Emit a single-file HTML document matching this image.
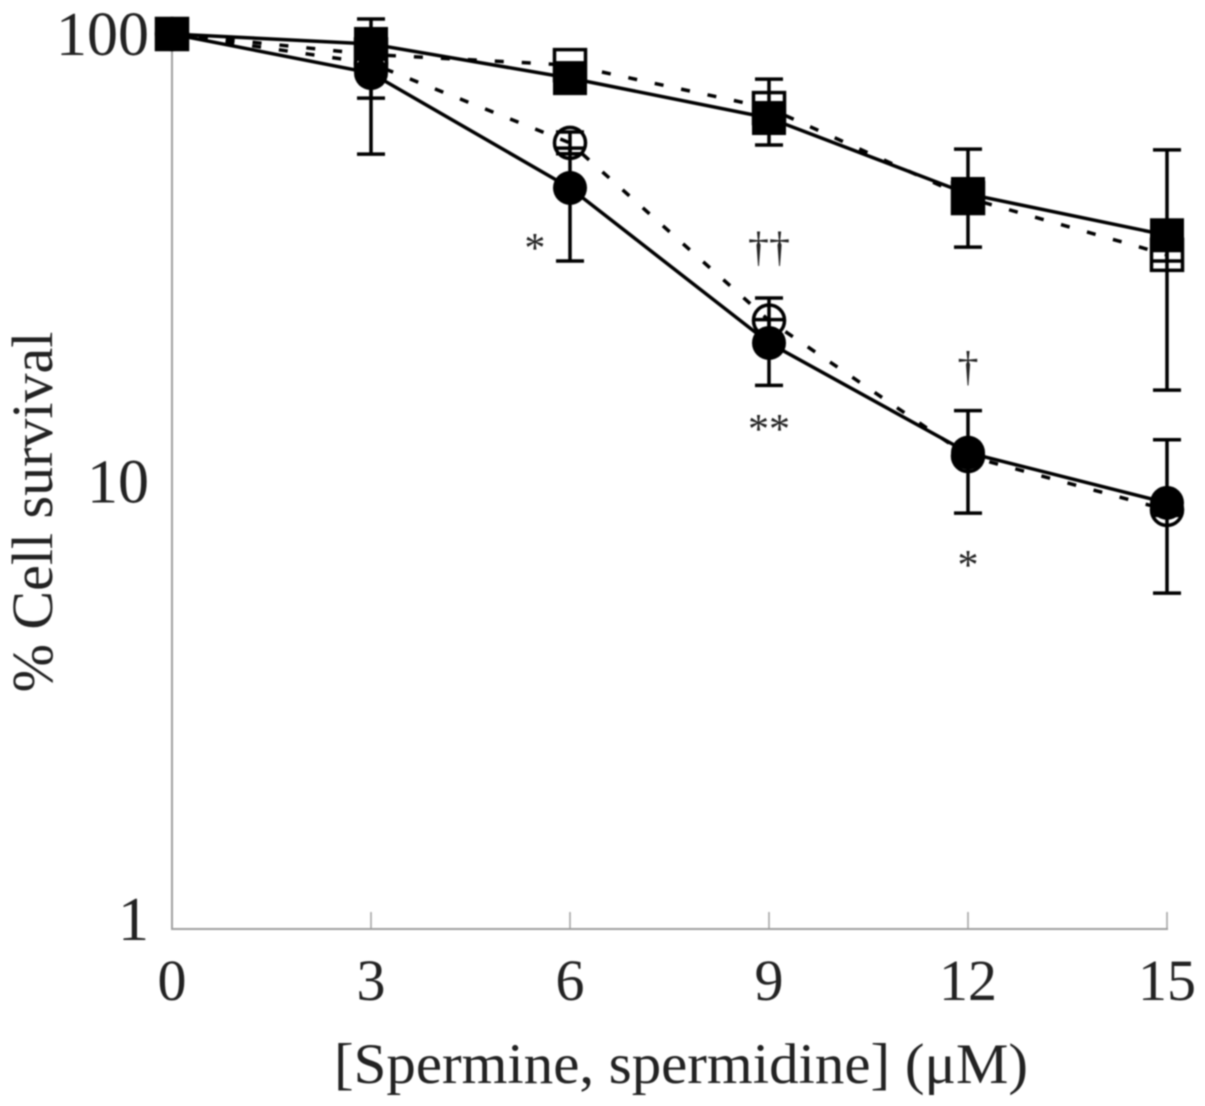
<!DOCTYPE html>
<html lang="en">
<head>
<meta charset="utf-8">
<title>Cell survival chart</title>
<style>
html,body{margin:0;padding:0;background:#fff;}
#chart{display:block;width:1205px;height:1106px;filter:blur(0.7px);}
text{font-family:"Liberation Serif","DejaVu Serif",serif;fill:#222;}
</style>
</head>
<body>
<svg id="chart" xmlns="http://www.w3.org/2000/svg" width="1205" height="1106" viewBox="0 0 1205 1106">
  <g id="axes"></g>
  <g id="series"></g>
  <g id="notes"></g>
  <text x="681" y="1083" font-size="57" text-anchor="middle" textLength="694" lengthAdjust="spacingAndGlyphs">[Spermine, spermidine] (μM)</text>
  <text transform="translate(52,512) rotate(-90)" font-size="58" text-anchor="middle">% Cell survival</text>
</svg>
<script>
const doses = [0, 3, 6, 9, 12, 15];
const xTickLabels = ["0", "3", "6", "9", "12", "15"];
const yTickValues = [100, 10, 1];

const openSquareValues = [100, 90, 85.2, 68.3, 43, 32.1];
const openSquareHigh = [null, 96, 85, 66, 46, 35];
const openSquareLow = [null, 85, 80, 65, 40, 16.0];

const openCircleValues = [100, 86, 57.1, 22.9, 11.4, 8.64];
const openCircleHigh = [null, 92, 60.4, 25.7, 12, 9.2];
const openCircleLow = [null, 71.9, 54, 20, 10.9, 8.4];

const filledSquareValues = [100, 95, 79.7, 64.9, 43.9, 35.5];
const filledSquareHigh = [null, 108, 84, 79.3, 55.3, 55.1];
const filledSquareLow = [null, 88, 75, 56.5, 33.4, 31.1];

const filledCircleValues = [100, 81.8, 45.3, 20.4, 11.6, 8.96];
const filledCircleHigh = [null, 88, 55.6, 23, 14.4, 12.4];
const filledCircleLow = [null, 53.9, 31.1, 16.4, 8.5, 5.63];

const noteLabels = ["*", "††", "**", "†", "*"];
const noteDoses = [5.47, 9, 9, 12, 12];
const noteValues = [30.9, 31.1, 12.2, 16.8, 6.06];

const NS = "http://www.w3.org/2000/svg";
const X0 = 172, X15 = 1167, Y1 = 929, DECADE = 447.5;
function xScale(d) { return X0 + (X15 - X0) * d / 15; }
function yScale(v) { return Y1 - DECADE * Math.log10(v); }
function make(tag, attrs, parent) {
  const el = document.createElementNS(NS, tag);
  for (const k in attrs) el.setAttribute(k, attrs[k]);
  parent.appendChild(el);
  return el;
}

const axes = document.getElementById("axes");
const seriesLayer = document.getElementById("series");
const notes = document.getElementById("notes");

const yAxis = make("line", {x1: X0, x2: X0, y1: yScale(100), y2: Y1 + 1, stroke: "#a0a0a0", "stroke-width": 2}, axes);


const xAxis = make("line", {x1: X0 - 1, x2: X15 + 1, y1: Y1, y2: Y1, stroke: "#a0a0a0", "stroke-width": 2}, axes);



doses.forEach(function (d, i) {
  if (i > 0) {
    const tick = make("line", {x1: xScale(d), x2: xScale(d), y1: Y1, y2: Y1 - 17, stroke: "#a0a0a0", "stroke-width": 1.5}, axes);
    
    
  }
  const label = make("text", {x: xScale(d), y: 1000, "font-size": 58, "text-anchor": "middle"}, axes);
  label.textContent = xTickLabels[i];
  
  
});
yTickValues.forEach(function (v) {
  const label = make("text", {x: 149, y: yScale(v) + (v === 1 ? 11 : 21), "font-size": 62, "text-anchor": "end"}, axes);
  label.textContent = String(v);
  
  
});

function drawLine(values, dashed) {
  const pts = values.map(function (v, i) { return xScale(doses[i]) + "," + yScale(v); }).join(" ");
  const line = make("polyline", {points: pts, fill: "none", stroke: "#000", "stroke-width": 3.5}, seriesLayer);
  if (dashed) line.setAttribute("stroke-dasharray", "9 18");
  
  
}
function drawErrors(high, low) {
  doses.forEach(function (d, i) {
    if (high[i] === null) return;
    const x = xScale(d), yh = yScale(high[i]), yl = yScale(low[i]);
    const p = "M" + x + " " + yh + "V" + yl + "M" + (x - 14) + " " + yh + "H" + (x + 14) + "M" + (x - 14) + " " + yl + "H" + (x + 14);
    const bar = make("path", {d: p, fill: "none", stroke: "#000", "stroke-width": 3.5}, seriesLayer);
    
    
  });
}
function drawMarkers(values, shape, filled) {
  values.forEach(function (v, i) {
    const cx = xScale(doses[i]), cy = yScale(v);
    let mark;
    if (shape === "square") {
      const s = filled ? 34 : 31;
      mark = make("rect", {x: cx - s / 2, y: cy - s / 2, width: s, height: s}, seriesLayer);
    } else {
      mark = make("circle", {cx: cx, cy: cy, r: filled ? 17 : 15.5}, seriesLayer);
    }
    mark.setAttribute("fill", filled ? "#000" : "none");
    mark.setAttribute("stroke", filled ? "none" : "#000");
    mark.setAttribute("stroke-width", filled ? 0 : 3.5);
    
    
  });
}

drawLine(openSquareValues, true);
drawLine(openCircleValues, true);
drawMarkers(openSquareValues, "square", false);
drawMarkers(openCircleValues, "circle", false);
drawErrors(openSquareHigh, openSquareLow);
drawErrors(openCircleHigh, openCircleLow);
drawLine(filledSquareValues, false);
drawLine(filledCircleValues, false);
drawErrors(filledSquareHigh, filledSquareLow);
drawErrors(filledCircleHigh, filledCircleLow);
drawMarkers(filledSquareValues, "square", true);
drawMarkers(filledCircleValues, "circle", true);

noteLabels.forEach(function (t, i) {
  const n = make("text", {x: xScale(noteDoses[i]), y: yScale(noteValues[i]), "font-size": 42, "text-anchor": "middle"}, notes);
  n.textContent = t;
  
  
});
</script>
</body>
</html>
